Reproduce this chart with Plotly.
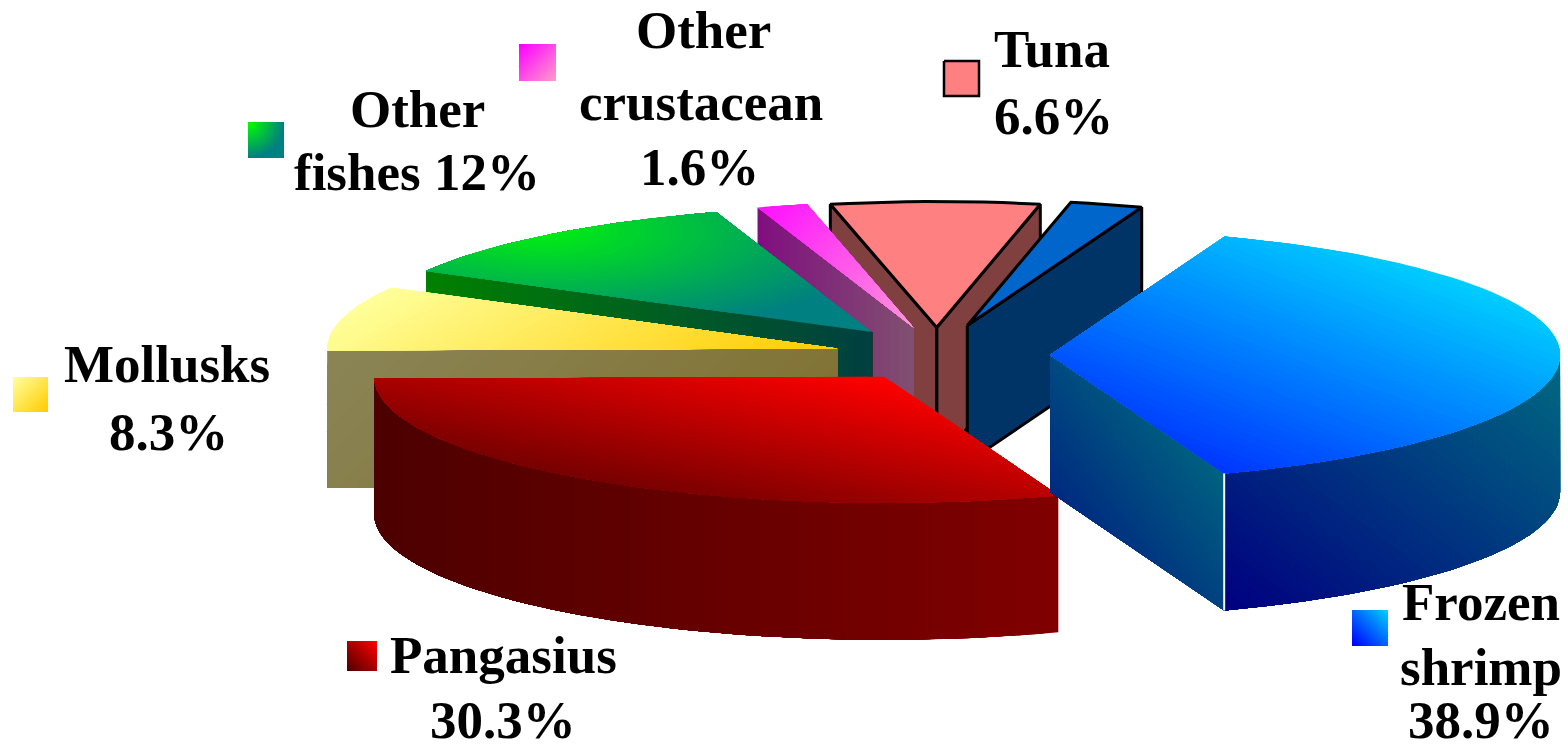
import math
import plotly.graph_objects as go

# ---- data ----
categories = ["Frozen shrimp", "Pangasius", "Mollusks", "Other fishes",
              "Other crustacean", "Tuna", "Unlabelled"]
shares = [38.9, 30.3, 8.3, 12.0, 1.6, 6.6, 2.3]
label_lines = [
    ["Frozen", "shrimp", "38.9%"], ["Pangasius", "30.3%"], ["Mollusks", "8.3%"],
    ["Other", "fishes 12%"], ["Other", "crustacean", "1.6%"], ["Tuna", "6.6%"], [],
]

# ---- geometry (pixel axes) ----
W, H = 1568, 749
CX, CY, RX, RY, DEPTH, PULL = 942, 355, 510, 126, 137, 0.21
START = -70.0
BANDS = 48
nudges = [(1, 0), (3, 0), (-1, 0), (-2, -2.5), (-1, -2), (-5, -1), (-4, -4)]

label_pos = [
    [(1481, 602), (1481, 667), (1481, 720)], [(503, 655), (503, 720)],
    [(167, 364), (168, 432)], [(417, 109), (417, 172)],
    [(703, 30), (701, 102), (699, 167)], [(1052, 49), (1053, 116)], [],
]
swatch_pos = [(1352, 610, 36), (347, 641, 30), (13, 377, 35), (248, 122, 36),
              (519, 44, 37), (944, 61, 35)]

fig = go.Figure()


def hex2rgb(c):
    return tuple(int(c[i:i + 2], 16) for i in (1, 3, 5))


def mix(a, b, t):
    ra, rb = hex2rgb(a), hex2rgb(b)
    return "rgb(%d,%d,%d)" % tuple(round(ra[i] + (rb[i] - ra[i]) * t) for i in range(3))


def add_poly(pts, color, line=None, lw=0):
    xs = [p[0] for p in pts] + [pts[0][0]]
    ys = [p[1] for p in pts] + [pts[0][1]]
    fig.add_trace(go.Scatter(x=xs, y=ys, mode="lines", fill="toself", fillcolor=color,
                             line=dict(color=line or "rgba(0,0,0,0)", width=lw),
                             hoverinfo="skip", showlegend=False))


def clip_half(pts, nx, ny, c):
    """keep the part of pts where nx*x + ny*y >= c"""
    out = []
    for i, p in enumerate(pts):
        q = pts[(i + 1) % len(pts)]
        dp = nx * p[0] + ny * p[1] - c
        dq = nx * q[0] + ny * q[1] - c
        if dp >= 0:
            out.append(p)
        if (dp >= 0) != (dq >= 0):
            s = dp / (dp - dq)
            out.append((p[0] + (q[0] - p[0]) * s, p[1] + (q[1] - p[1]) * s))
    return out


def linear(pts, c0, c1, dx, dy, n=BANDS):
    """painted from c0 to c1 along direction (dx, dy)"""
    norm = math.hypot(dx, dy)
    dx, dy = dx / norm, dy / norm
    proj = [dx * p[0] + dy * p[1] for p in pts]
    lo, hi = min(proj), max(proj)
    for i in range(n):
        t = i / max(n - 1, 1)
        poly = pts if i == 0 else clip_half(pts, dx, dy, lo + (hi - lo) * i / n)
        if len(poly) >= 3:
            add_poly(poly, mix(c0, c1, t))


def radial(pts, inner, outer, ox, oy, ax, ay, n=BANDS):
    """painted from the outer colour in to the inner one, ellipses round (ox, oy)"""
    add_poly(pts, outer)
    for i in range(1, n):
        s = 1 - i / n
        poly = pts
        for k in range(36):
            a = 2 * math.pi * k / 36
            nx, ny = -math.cos(a) / (ax * s), -math.sin(a) / (ay * s)
            c = nx * ox + ny * oy - 1
            poly = clip_half(poly, nx, ny, c)
            if len(poly) < 3:
                break
        if len(poly) >= 3:
            add_poly(poly, mix(outer, inner, i / n))


def rim(ax, ay, a0, a1, step=2.0):
    n = max(int(abs(a1 - a0) / step), 1)
    return [(ax + RX * math.cos(math.radians(a0 + (a1 - a0) * i / n)),
             ay + RY * math.sin(math.radians(a0 + (a1 - a0) * i / n))) for i in range(n + 1)]


def down(pts):
    return [(x, y + DEPTH) for x, y in pts]


# angular extents come from the shares
total = sum(shares)
spans, a = [], START
for v in shares:
    spans.append((a, a + 360 * v / total))
    a += 360 * v / total


def geom(i):
    a0, a1 = spans[i]
    mid = math.radians((a0 + a1) / 2)
    ax = CX + PULL * RX * math.cos(mid) + nudges[i][0]
    ay = CY + PULL * RY * math.sin(mid) + nudges[i][1]
    return ax, ay, a0, a1


def wall(ax, ay, p):
    return [(ax, ay), p, (p[0], p[1] + DEPTH), (ax, ay + DEPTH)]


# Tuna
ax, ay, a0, a1 = geom(5)
r = rim(ax, ay, a0, a1)
add_poly(wall(ax, ay, r[-1]), "#804040", "#000000", 3)
add_poly(wall(ax, ay, r[0]), "#804040", "#000000", 3)
add_poly([(ax, ay)] + r, "#ff8080", "#000000", 3)

# Unlabelled blue slice
ax, ay, a0, a1 = geom(6)
r = rim(ax, ay, a0, a1)
add_poly(wall(ax, ay, r[-1]), "#003366", "#000000", 3)
add_poly([(ax, ay)] + r, "#0066cc", "#000000", 3)

# Other crustacean
ax, ay, a0, a1 = geom(4)
r = rim(ax, ay, a0, a1, 1.0)
linear(wall(ax, ay, r[0]), "#800f80", "#805070", 1, 0)
linear([(ax, ay)] + r, "#ff10ff", "#ff98d8", 1, 1)

# Other fishes
ax, ay, a0, a1 = geom(3)
r = rim(ax, ay, a0, a1)
linear(wall(ax, ay, r[0]), "#008000", "#004040", 1, 0)
radial([(ax, ay)] + r, "#00f010", "#008080", 545, 232, 350, 105)

# Mollusks
ax, ay, a0, a1 = geom(2)
r = rim(ax, ay, a0, a1)
linear(wall(ax, ay, r[0]), "#8a8455", "#80702f", 1, 1)
linear([(ax, ay)] + r, "#ffff99", "#ffcc00", 0.5, 0.87)

# Pangasius
ax, ay, a0, a1 = geom(1)
r = rim(ax, ay, a0, a1)
front = r + down(r)[::-1]
linear(front, "#800000", "#4d0000", -1, 0)
linear([(ax, ay)] + r, "#ff0000", "#780000", -0.2, 0.98)

# Frozen shrimp
ax, ay, a0, a1 = geom(0)
r = rim(ax, ay, a0, a1)
front = [p for p in r if p[0] >= r[-1][0] - 0.01 and p[1] >= ay - 0.01]
front = front + down(front)[::-1]
linear(front, "#006a80", "#000080", -0.6, 0.8)
linear(wall(ax, ay, r[-1]), "#006280", "#002a80", -1, 0.8)
linear([(ax, ay)] + r, "#00ccff", "#0038ff", -0.35, 0.94)
fig.add_trace(go.Scatter(x=[r[-1][0], r[-1][0]], y=[r[-1][1], r[-1][1] + DEPTH], mode="lines",
                         line=dict(color="#f4f4f4", width=2), hoverinfo="skip", showlegend=False))

# Legend keys
key_colors = [("#00ccff", "#0000ff", -1, 1), ("#ff0000", "#500000", -1, 1),
              ("#ffff99", "#ffcc00", 1, 1), None, ("#ff00ff", "#ff99cc", 1, 1), None]
for i, (sx, sy, s) in enumerate(swatch_pos):
    sq = [(sx, sy), (sx + s, sy), (sx + s, sy + s), (sx, sy + s)]
    if categories[i] == "Tuna":
        add_poly(sq, "#ff8080", "#000000", 2.5)
    elif categories[i] == "Other fishes":
        radial(sq, "#00ff00", "#008080", sx + 2, sy + 2, s * 0.95, s * 0.95, 16)
    else:
        c0, c1, dx, dy = key_colors[i]
        linear(sq, c0, c1, dx, dy, 20)

# Labels
for lines, pos in zip(label_lines, label_pos):
    for t, (x, y) in zip(lines, pos):
        fig.add_annotation(x=x, y=y, text="<b>" + t + "</b>", showarrow=False,
                           xanchor="center", yanchor="middle",
                           font=dict(family="Liberation Serif", size=53, color="#000000"))

fig.update_layout(
    width=W, height=H, autosize=False, margin=dict(l=0, r=0, t=0, b=0),
    paper_bgcolor="#ffffff", plot_bgcolor="#ffffff", showlegend=False,
    xaxis=dict(range=[0, W], visible=False, fixedrange=True),
    yaxis=dict(range=[H, 0], visible=False, fixedrange=True),
)
fig.write_html("out.html", config={"displayModeBar": False},
               post_script="document.body.style.margin='0';document.body.style.overflow='hidden';")
